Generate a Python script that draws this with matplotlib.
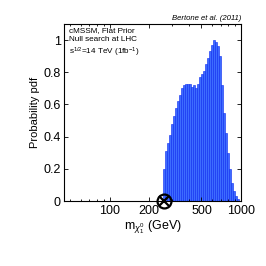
import matplotlib
matplotlib.use("Agg")
import matplotlib.pyplot as plt
import numpy as np
from matplotlib.ticker import FixedLocator, FixedFormatter, LogLocator, NullFormatter

plt.rcParams['font.family'] = ['Liberation Sans', 'DejaVu Sans']
plt.rcParams['mathtext.fontset'] = 'custom'
plt.rcParams['mathtext.rm'] = 'Liberation Sans'
plt.rcParams['mathtext.it'] = 'Liberation Sans:italic'

# bin centres (GeV) and probability values
mass_gev = [258, 268, 277, 287, 297, 308, 319, 330, 342, 354, 367, 380, 394,
            408, 422, 437, 453, 469, 486, 503, 521, 540, 559, 579, 600, 621,
            643, 666, 690, 715, 741, 767, 795, 823, 852, 883, 914, 947]
pdf = [0.20, 0.31, 0.36, 0.41, 0.48, 0.53, 0.58, 0.62, 0.66, 0.70, 0.72, 0.73,
       0.73, 0.73, 0.71, 0.72, 0.70, 0.73, 0.77, 0.79, 0.81, 0.85, 0.89, 0.93,
       0.97, 1.00, 0.99, 0.96, 0.90, 0.72, 0.55, 0.42, 0.30, 0.20, 0.11, 0.06,
       0.03, 0.01]
xtick_vals = [100, 200, 500, 1000]
xtick_labels = ['100', '200', '500', '1000']
ytick_vals = [0, 0.2, 0.4, 0.6, 0.8, 1]
ytick_labels = ['0', '0.2', '0.4', '0.6', '0.8', '1']
marker_mass = [258]
marker_val = [0]

fig = plt.figure(figsize=(2.66, 2.66), dpi=100)
ax = fig.add_axes([0.241, 0.244, 0.665, 0.666])

c = np.array(mass_gev, dtype=float)
lc = np.log10(c)
edges = np.empty(len(c) + 1)
edges[1:-1] = 10 ** ((lc[:-1] + lc[1:]) / 2)
edges[0] = 10 ** (lc[0] - (lc[1] - lc[0]) / 2)
edges[-1] = 10 ** (lc[-1] + (lc[-1] - lc[-2]) / 2)
ax.bar(edges[:-1], pdf, width=np.diff(edges), align='edge',
       color='#3d6cff', edgecolor='#0a28f0', linewidth=0.4)

ax.plot(marker_mass, marker_val, 'o', ms=10, mfc='none', mec='black', mew=1.6,
        clip_on=False, zorder=5)
ax.plot(marker_mass, marker_val, 'x', ms=6.5, mec='black', mew=1.6,
        clip_on=False, zorder=5)

ax.set_xscale('log')
ax.set_xlim(45, 1000)
ax.set_ylim(0, 1.1)
ax.xaxis.set_major_locator(FixedLocator(xtick_vals))
ax.xaxis.set_major_formatter(FixedFormatter(xtick_labels))
ax.xaxis.set_minor_locator(LogLocator(base=10, subs=np.arange(2, 10), numticks=10))
ax.xaxis.set_minor_formatter(NullFormatter())
ax.yaxis.set_major_locator(FixedLocator(ytick_vals))
ax.yaxis.set_major_formatter(FixedFormatter(ytick_labels))
ax.tick_params(which='both', direction='in', top=True, right=True,
               labelsize=9, width=0.6, pad=2.5)
ax.tick_params(which='major', length=3)
ax.tick_params(which='minor', length=1.5)
for s in ax.spines.values():
    s.set_linewidth(0.8)

ax.set_ylabel('Probability pdf', fontsize=8, labelpad=2)
ax.set_xlabel(r'm$_{\chi_1^0}$ (GeV)', fontsize=9, labelpad=1)

ax.text(0.03, 0.98, 'cMSSM, Flat Prior\nNull search at LHC\ns$^{1/2}$=14 TeV (1fb$^{-1}$)',
        transform=ax.transAxes, ha='left', va='top', fontsize=5.9, linespacing=1.3)
ax.text(1.0, 1.012, 'Bertone et al. (2011)', transform=ax.transAxes,
        ha='right', va='bottom', fontsize=5.6, style='italic')

fig.savefig('out.png', dpi=100)
